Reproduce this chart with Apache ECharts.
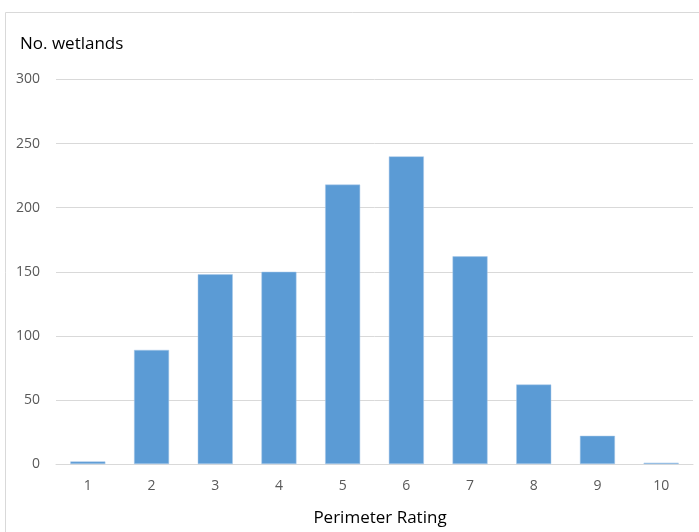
<!DOCTYPE html>
<html>
<head>
<meta charset="utf-8">
<title>No. wetlands by Perimeter Rating</title>
<script src="https://cdn.jsdelivr.net/npm/echarts@6/dist/echarts.min.js"></script>
<style>
  html, body { margin: 0; padding: 0; background: #ffffff; }
  #chart { width: 699px; height: 532px; }
</style>
</head>
<body>
<div id="chart"></div>
<script>
// Perimeter rating classes and number of wetlands in each
const ratings = ['1', '2', '3', '4', '5', '6', '7', '8', '9', '10'];
const wetlandCounts = [2, 89, 148, 150, 218, 240, 162, 62, 22, 1];
const countTicks = [0, 50, 100, 150, 200, 250, 300];

const FONT = '"Open Sans", "Liberation Sans", sans-serif';
const LABEL_COLOR = '#595959';
const LINE_COLOR = '#d9d9d9';

const chart = echarts.init(document.getElementById('chart'), null, { renderer: 'canvas' });

chart.setOption({
  animation: false,
  backgroundColor: '#ffffff',
  graphic: [
    {
      // chart area frame
      type: 'rect',
      shape: { x: 5.5, y: 12.5, width: 760, height: 600 },
      style: { fill: 'none', stroke: LINE_COLOR, lineWidth: 1 },
      silent: true,
      z: -1
    }
  ],
  title: [
    {
      text: 'No. wetlands',
      left: 15,
      top: 31,
      textStyle: { fontFamily: FONT, fontSize: 17, fontWeight: 'normal', color: '#000000' }
    },
    {
      text: 'Perimeter Rating',
      left: 375,
      top: 505,
      textAlign: 'center',
      textStyle: { fontFamily: FONT, fontSize: 17, fontWeight: 'normal', color: '#000000' }
    }
  ],
  grid: {
    left: 56,
    right: 6,
    top: 79.5,
    bottom: 532 - 464,
    containLabel: false
  },
  xAxis: {
    type: 'category',
    data: ratings,
    axisLine: { show: true, lineStyle: { color: LINE_COLOR, width: 1 } },
    axisTick: { show: false },
    axisLabel: {
      margin: 15,
      color: LABEL_COLOR,
      fontFamily: FONT,
      fontSize: 14
    },
    splitLine: { show: false }
  },
  yAxis: {
    type: 'value',
    min: countTicks[0],
    max: countTicks[countTicks.length - 1],
    interval: countTicks[1] - countTicks[0],
    axisLine: { show: false },
    axisTick: { show: false },
    axisLabel: {
      margin: 16,
      color: LABEL_COLOR,
      fontFamily: FONT,
      fontSize: 14
    },
    splitLine: { show: true, lineStyle: { color: LINE_COLOR, width: 1 } }
  },
  series: [
    {
      type: 'bar',
      data: wetlandCounts,
      barWidth: 35,
      itemStyle: {
        color: '#5b9bd5',
        borderColor: '#a9c9e8',
        borderWidth: 0.5
      },
      z: 3
    }
  ]
});
</script>
</body>
</html>
